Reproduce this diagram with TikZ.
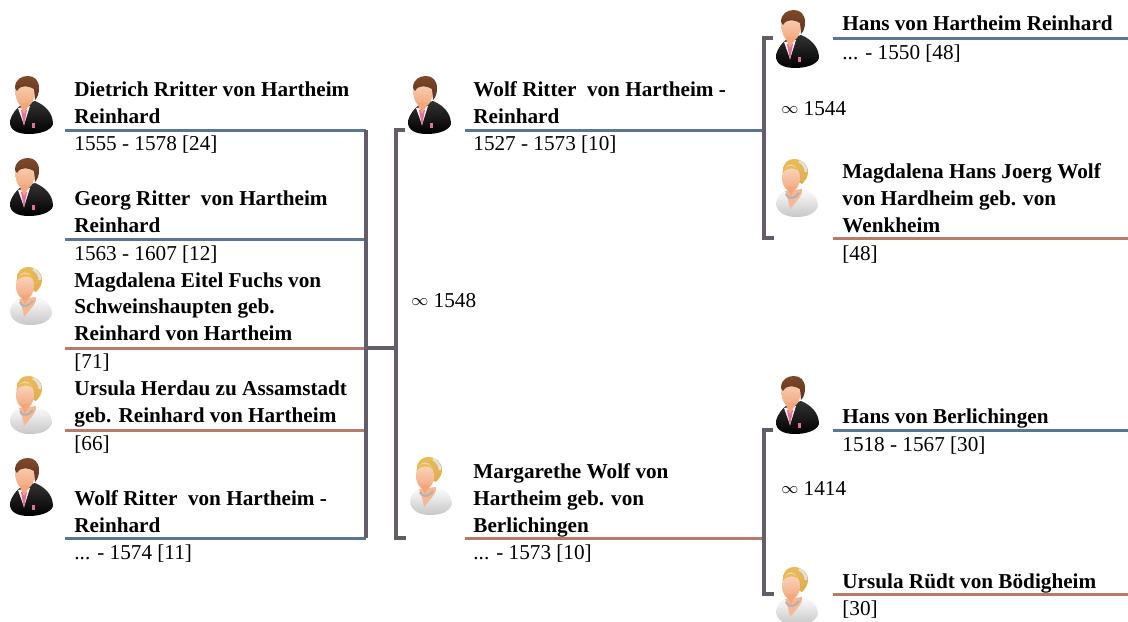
\documentclass[tikz,border=0pt]{standalone}
\usepackage{fontspec}
\setmainfont{Liberation Serif}
\usepackage{xcolor}
\definecolor{manline}{HTML}{5B7594}
\definecolor{womanline}{HTML}{B97A6A}
\definecolor{barline}{HTML}{625D68}
\definecolor{skinup}{HTML}{FAD9C4}
\definecolor{skindown}{HTML}{F2A67A}
\definecolor{hairm}{HTML}{80492A}
\definecolor{hairw}{HTML}{E9BC55}
\definecolor{tie}{HTML}{E0709A}
\newcommand{\wed}{{\fontsize{8}{8}\selectfont\raisebox{0.7pt}{$\infty$}}}
\tikzset{
  nm/.style={anchor=base west,inner sep=0,align=left,font=\fontsize{10.6}{13.3}\selectfont\bfseries},
  yr/.style={anchor=base west,inner sep=0,font=\fontsize{10.6}{12}\selectfont},
  mline/.style={draw=manline,line width=1.5pt},
  wline/.style={draw=womanline,line width=1.5pt},
  bar/.style={draw=barline,line width=1.7pt,line cap=butt},
  man/.pic={
    \shade[top color=black!80,bottom color=black] (-21,16) .. controls (-19,8) and (-14,3) .. (-10,0)
      -- (4,-4) .. controls (14,0) and (22,8) .. (22,19) .. controls (20,26) and (8,29) .. (-2,29)
      .. controls (-12,29) and (-22,26) .. (-21,16) -- cycle;
    \fill[white!90!tie] (-13,3) -- (-1,1) -- (-7,20) -- cycle;
    \fill[tie] (-10,5) -- (-4,5) -- (-7,21) -- cycle;
    \fill[tie] (1,18) rectangle (4,23);
    \shade[top color=skinup,bottom color=skindown] (-6,-13) ellipse [x radius=9.5,y radius=15.5];
    \fill[skindown] (-12,-2) -- (-1,-2) -- (-7,9) -- cycle;
    \shade[top color=hairm,bottom color=hairm!70!black] (-16,-17) .. controls (-16,-26) and (-9,-29) .. (-3,-29)
      .. controls (3,-29) and (8,-25) .. (8,-17) .. controls (8,-12) and (7,-8) .. (4,-5)
      -- (3,-16) .. controls (-2,-19) and (-10,-21) .. (-14,-14) -- cycle;
  },
  woman/.pic={
    \shade[top color=white,bottom color=black!22] (-21,15) .. controls (-20,8) and (-16,5) .. (-11,2)
      -- (6,0) .. controls (14,4) and (21,9) .. (21,18) .. controls (18,27) and (8,29) .. (-1,29)
      .. controls (-12,29) and (-21,24) .. (-21,15) -- cycle;
    \fill[skindown!80!white] (-12,3) -- (5,1) .. controls (6,6) and (3,9) .. (-7,21) .. controls (-8,14) and (-10,8) .. (-12,3) -- cycle;
    \draw[black!30,line width=1pt] (-11,6) .. controls (-8,12) and (-3,11) .. (2,5);
    \shade[top color=hairw,bottom color=hairw!75!brown] (-14,-17) .. controls (-14,-26) and (-8,-29) .. (-3,-29)
      .. controls (5,-29) and (11,-24) .. (11,-16) .. controls (11,-12) and (9,-8) .. (5,-4) -- (1,-6) -- cycle;
    \draw[black!12,line width=1.4pt] (2,-27) .. controls (6,-25) and (9,-21) .. (9,-16);
    \shade[top color=skinup,bottom color=skindown] (-6,-10) ellipse [x radius=9,y radius=13.5];
    \fill[hairw] (-15,-15) .. controls (-12,-24) and (-2,-25) .. (3,-16) .. controls (-2,-21) and (-9,-21) .. (-15,-15) -- cycle;
    \fill[skindown] (-11,-1) -- (-1,-1) -- (-6,8) -- cycle;
  },
}
\begin{document}
\begin{tikzpicture}[x=0.5pt,y=-0.5pt]
    \clip (0,0) rectangle (1128,621);

    \pic at (31,105) {man};
    \pic at (31,187) {man};
    \pic at (31,296) {woman};
    \pic at (31,405) {woman};
    \pic at (31,487) {man};
    \pic at (429,105) {man};
    \pic at (431,486) {woman};
    \pic at (797,39) {man};
    \pic at (797,188) {woman};
    \pic at (797,405) {man};
    \pic at (797,596) {woman};

    \node[nm] (dietrich) at (74,123.5) {Dietrich Rritter von Hartheim\\Reinhard};
    \node[yr] (dietrichy) at (74,150) {1555 - 1578 [24]};
    \node[nm] (georg) at (74,232) {Georg Ritter~ von Hartheim\\Reinhard};
    \node[yr] (georgy) at (74,260) {1563 - 1607 [12]};
    \node[nm] (eitel) at (74,340.5) {Magdalena Eitel Fuchs von\\Schweinshaupten geb.\\Reinhard von Hartheim};
    \node[yr] (eitely) at (74,368) {[71]};
    \node[nm] (herdau) at (74,422) {Ursula Herdau zu Assamstadt\\geb. Reinhard von Hartheim};
    \node[yr] (herdauy) at (74,450) {[66]};
    \node[nm] (wolfa) at (74,532) {Wolf Ritter~ von Hartheim -\\Reinhard};
    \node[yr] (wolfay) at (74,559) {... - 1574 [11]};

    \node[nm] (wolfb) at (473,123.5) {Wolf Ritter~ von Hartheim -\\Reinhard};
    \node[yr] (wolfby) at (473,150) {1527 - 1573 [10]};
    \node[nm] (marg) at (473,532) {Margarethe Wolf von\\Hartheim geb. von\\Berlichingen};
    \node[yr] (margy) at (473,559) {... - 1573 [10]};
    \node[yr] (mara) at (411,307) {\wed{} 1548};

    \node[nm] (hansh) at (842,31) {Hans von Hartheim Reinhard};
    \node[yr] (hanshy) at (842,59) {... - 1550 [48]};
    \node[yr] (marb) at (781,115) {\wed{} 1544};
    \node[nm] (wenk) at (842,232) {Magdalena Hans Joerg Wolf\\von Hardheim geb. von\\Wenkheim};
    \node[yr] (wenky) at (842,260) {[48]};
    \node[nm] (hansb) at (842,423) {Hans von Berlichingen};
    \node[yr] (hansby) at (842,451) {1518 - 1567 [30]};
    \node[yr] (marc) at (781,495) {\wed{} 1414};
    \node[nm] (ursr) at (842,588) {Ursula Rüdt von Bödigheim};
    \node[yr] (ursry) at (842,615) {[30]};

    \coordinate (dietrichl) at (65,130);
    \coordinate (georgl) at (65,239);
    \coordinate (eitell) at (65,348);
    \coordinate (herdaul) at (65,430);
    \coordinate (wolfal) at (65,538);
    \coordinate (wolfbl) at (465,130);
    \coordinate (margl) at (465,538);
    \coordinate (hanshl) at (833,38);
    \coordinate (wenkl) at (833,238);
    \coordinate (hansbl) at (833,430);
    \coordinate (ursrl) at (833,594);
    \coordinate (barl) at (366,130);
    \coordinate (barm) at (396,130);
    \coordinate (bart) at (764,38);
    \coordinate (barb) at (764,430);
    \coordinate (edget) at (1128,38);

    \draw [mline] (dietrichl) to (barl);
    \draw [mline] (georgl) to (georgl -| barl);
    \draw [wline] (eitell) to (eitell -| barl);
    \draw [wline] (herdaul) to (herdaul -| barl);
    \draw [mline] (wolfal) to (wolfal -| barl);
    \draw [mline] (wolfbl) to (wolfbl -| bart);
    \draw [wline] (margl) to (margl -| bart);
    \draw [mline] (hanshl) to (edget);
    \draw [wline] (wenkl) to (wenkl -| edget);
    \draw [mline] (hansbl) to (hansbl -| edget);
    \draw [wline] (ursrl) to (ursrl -| edget);

    \draw [bar] (barl) to (wolfal -| barl);
    \draw [bar] (eitell -| barl) to (eitell -| barm);
    \draw [bar] ([xshift=4.5pt]barm) -| (wolfal -| barm) -- ++(10,0);
    \draw [bar] ([xshift=4.5pt]bart) -| (wenkl -| bart) -- ++(10,0);
    \draw [bar] ([xshift=4.5pt]barb) -| (ursrl -| barb) -- ++(10,0);
\end{tikzpicture}
\end{document}
